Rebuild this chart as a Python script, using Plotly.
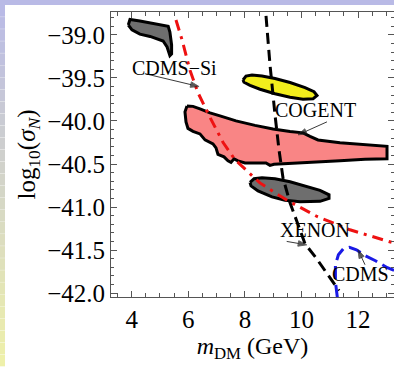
import plotly.graph_objects as go

# ---- data ----
cdmssi_blob_x = [3.88, 3.94, 4.29, 4.82, 5.12, 5.29, 5.35, 5.41, 5.41, 5.35, 5.25, 5.11, 4.65, 4.29, 4.01, 3.88]
cdmssi_blob_y = [-38.884, -38.82, -38.837, -38.872, -38.884, -38.90, -38.965, -39.116, -39.22, -39.24, -39.14, -39.07, -39.017, -38.99, -38.94, -38.884]

cogent_x = [7.933, 8.039, 8.251, 8.604, 9.064, 9.594, 10.124, 10.442, 10.548, 10.407, 10.053, 9.594, 9.064, 8.534, 8.180, 7.968, 7.933]
cogent_y = [-39.523, -39.478, -39.466, -39.478, -39.507, -39.553, -39.612, -39.660, -39.703, -39.742, -39.747, -39.724, -39.683, -39.631, -39.585, -39.550, -39.523]

pink_x = [5.954, 6.166, 6.413, 6.767, 7.120, 7.686, 8.357, 8.993, 9.594, 10.053, 10.300, 10.583, 11.360, 12.244, 13.021,
          13.021, 12.244, 11.360, 10.300, 9.594, 9.028, 8.887, 8.746, 8.004, 7.756, 7.615, 7.509, 7.403, 7.261, 7.049,
          6.979, 6.873, 6.590, 6.413, 6.166, 5.989, 5.919, 5.883, 5.954]
pink_y = [-39.825, -39.830, -39.859, -39.906, -39.941, -39.999, -40.051, -40.092, -40.121, -40.138, -40.179, -40.220, -40.254, -40.278, -40.295,
          -40.440, -40.446, -40.463, -40.481, -40.487, -40.504, -40.516, -40.487, -40.487, -40.463, -40.440, -40.481, -40.463, -40.417, -40.388,
          -40.312, -40.266, -40.220, -40.150, -40.121, -40.086, -40.010, -39.894, -39.825]

gray2_x = [8.180, 8.322, 8.604, 9.064, 9.594, 10.124, 10.654, 10.972, 10.972, 10.654, 9.947, 9.417, 8.958, 8.463, 8.216, 8.180]
gray2_y = [-40.713, -40.672, -40.661, -40.672, -40.707, -40.754, -40.806, -40.858, -40.899, -40.934, -40.940, -40.922, -40.882, -40.812, -40.754, -40.713]

red_x = [5.565, 5.78, 6.06, 6.34, 6.77, 7.23, 7.65, 8.07, 8.53, 9.07, 9.59, 10.55, 11.71, 13.23]
red_y = [-38.826, -39.058, -39.41, -39.67, -39.96, -40.25, -40.45, -40.58, -40.72, -40.835, -40.94, -41.11, -41.265, -41.415]

xenon_x = [8.746, 8.887, 9.064, 9.205, 9.346, 9.594, 9.841, 10.124, 10.512, 10.936, 11.325]
xenon_y = [-38.779, -39.348, -39.929, -40.336, -40.661, -40.951, -41.172, -41.427, -41.590, -41.787, -41.973]

cdms_x = [11.268, 11.198, 11.198, 11.304, 11.481, 11.693, 11.940, 12.258, 12.612, 13.035, 13.3]
cdms_y = [-42.055, -41.869, -41.671, -41.555, -41.485, -41.468, -41.497, -41.567, -41.625, -41.706, -41.74]

# labels: (text, text x, text y, arrow tail x, tail y, head x, head y)
labels = [
    ("CDMS\u2212Si", 5.53, -39.38, 4.47, -39.45, 6.38, -39.60),
    ("COGENT", 10.477, -39.871, 10.90, -40.01, 9.88, -40.161),
    ("XENON", 10.477, -41.265, 9.477, -41.40, 10.184, -41.44),
    ("CDMS", 12.067, -41.776, 12.244, -41.671, 11.996, -41.497),
]

x_range = [3.269, 13.268]
y_range = [-42.046, -38.733]

FONT = "Liberation Serif, Times New Roman, serif"

fig = go.Figure()

def region(x, y, fill):
    fig.add_trace(go.Scatter(x=x, y=y, mode="lines", fill="toself", fillcolor=fill,
                             line=dict(color="black", width=3), hoverinfo="skip", showlegend=False))

region(cdmssi_blob_x, cdmssi_blob_y, "#6e6e6e")
region(pink_x, pink_y, "#f98585")
region(cogent_x, cogent_y, "#f2ee1c")
region(gray2_x, gray2_y, "#6e6e6e")

fig.add_trace(go.Scatter(x=red_x, y=red_y, mode="lines", line=dict(color="#ee1111", width=3, dash="11px,6px,3px,6px"),
                         showlegend=False, hoverinfo="skip"))
fig.add_trace(go.Scatter(x=xenon_x, y=xenon_y, mode="lines", line=dict(color="black", width=3, dash="11px,6px"),
                         showlegend=False, hoverinfo="skip"))
fig.add_trace(go.Scatter(x=cdms_x, y=cdms_y, mode="lines", line=dict(color="#1a1ae6", width=3, dash="13px,6px"),
                         showlegend=False, hoverinfo="skip"))

for txt, tx, ty, ax_, ay_, hx, hy in labels:
    fig.add_annotation(x=tx, y=ty, text=txt, showarrow=False,
                       font=dict(family=FONT, size=20, color="black"))
    fig.add_trace(go.Scatter(x=[ax_, hx], y=[ay_, hy], mode="lines+markers",
                             line=dict(color="#222", width=0.9),
                             marker=dict(symbol="arrow", size=[0, 9], angleref="previous", color="#111"),
                             showlegend=False, hoverinfo="skip"))

# background frame strips (slide border)
L, R, T, B = 111, 394, 12, 297.3
W, H = R - L, B - T
def px(xp): return (xp - L) / W
def py(yp): return (B - yp) / H

shapes = [dict(type="rect", xref="paper", yref="paper", x0=px(0), x1=px(394), y0=py(0), y1=py(5),
               fillcolor="#b9bae6", line=dict(width=0), layer="below")]
n = 30
c0 = (185, 186, 230)
c1 = (238, 240, 170)
for i in range(n):
    t = i / (n - 1)
    c = tuple(int(round(c0[k] + (c1[k] - c0[k]) * t)) for k in range(3))
    shapes.append(dict(type="rect", xref="paper", yref="paper", x0=px(0), x1=px(5),
                       y0=py(5 + (367 - 5) * i / n), y1=py(5 + (367 - 5) * (i + 1) / n) + 0.001,
                       fillcolor="rgb(%d,%d,%d)" % c, line=dict(width=0), layer="below"))

axis_common = dict(showgrid=False, zeroline=False, showline=True, linecolor="#555", linewidth=1,
                   mirror="ticks", ticks="inside", ticklen=6, tickcolor="#555", tickwidth=1,
                   tickfont=dict(family=FONT, size=25, color="black"))

fig.update_layout(
    width=394, height=367,
    margin=dict(l=L, r=394 - R, t=T, b=367 - B),
    paper_bgcolor="white", plot_bgcolor="white",
    shapes=shapes,
    xaxis=dict(range=x_range, tick0=4, dtick=2,
               minor=dict(dtick=0.5, ticks="inside", ticklen=4, tickcolor="#555"),
               title=dict(text="<i>m</i><sub>DM</sub> (GeV)", font=dict(family=FONT, size=24, color="black"), standoff=5),
               **axis_common),
    yaxis=dict(range=y_range, tick0=-42, dtick=0.5, tickformat=".1f",
               minor=dict(dtick=0.1, ticks="inside", ticklen=3, tickcolor="#555"),
               title=dict(text="log<sub>10</sub>(<i>σ</i><sub><i>N</i></sub>)", font=dict(family=FONT, size=25, color="black"), standoff=4),
               **axis_common),
)

fig.write_html("out.html")
